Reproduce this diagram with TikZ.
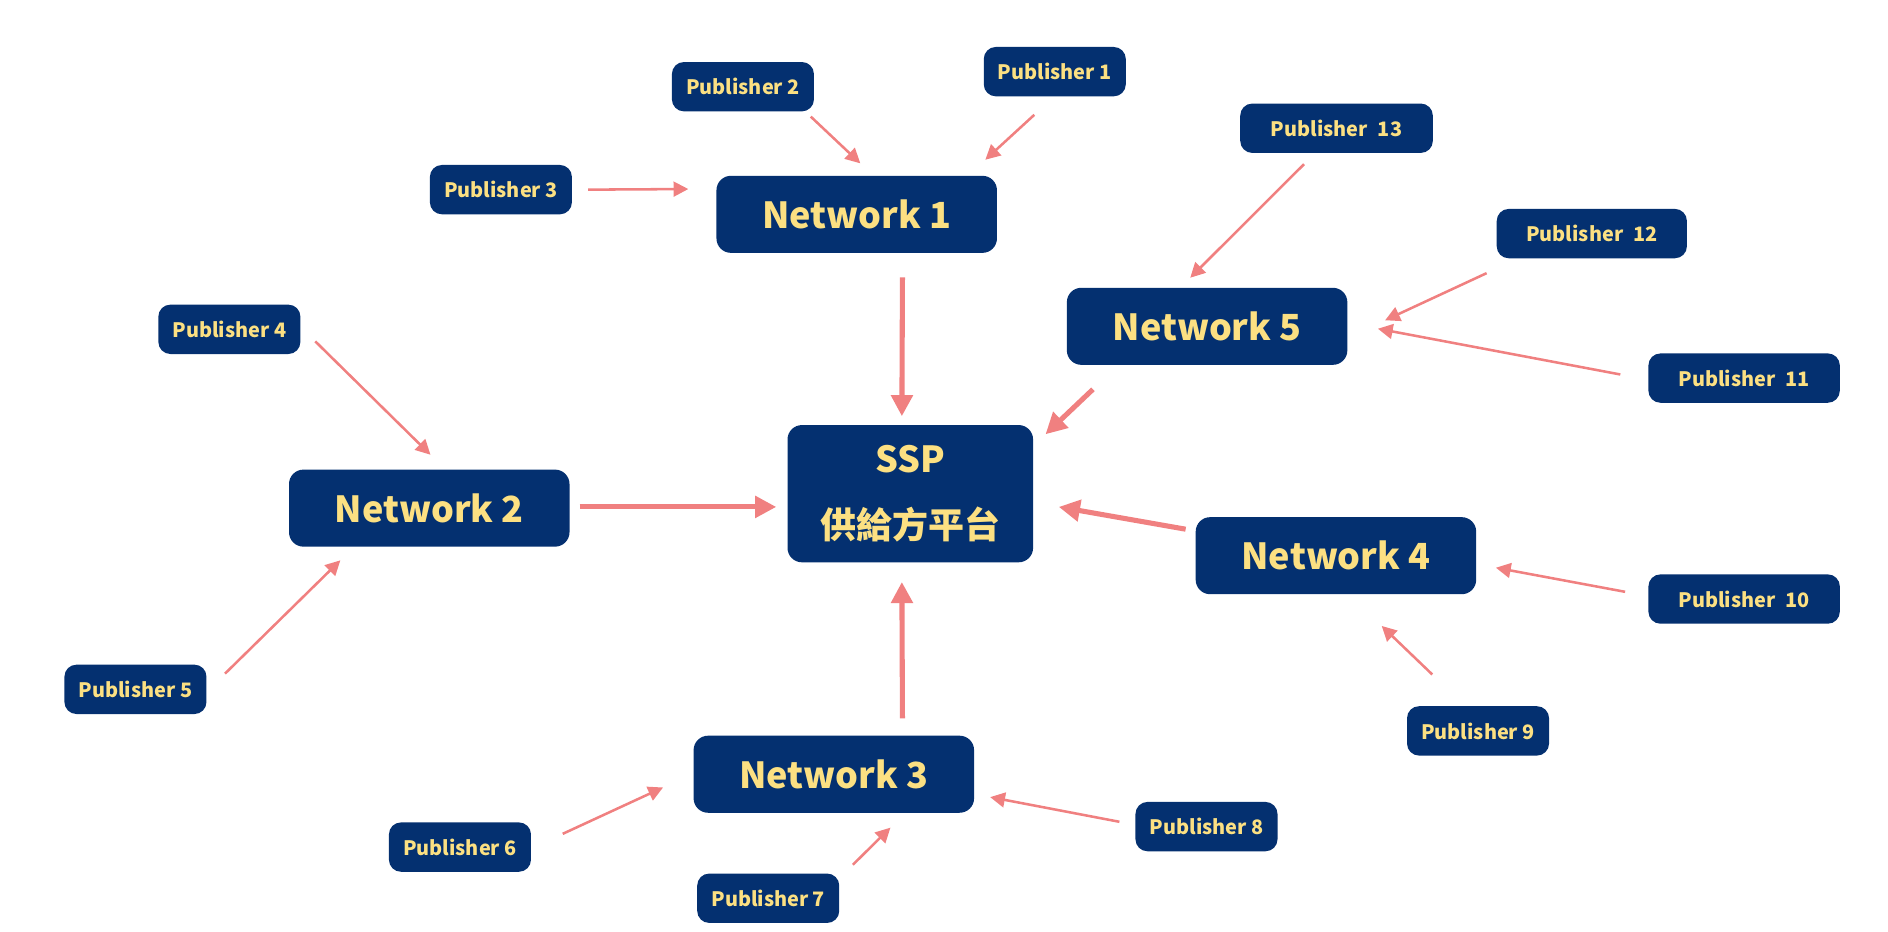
\documentclass[tikz,border=0pt]{standalone}
\usepackage{fontspec}
\setmainfont{Noto Sans CJK SC}
\usepackage{tikz}
\usetikzlibrary{arrows.meta}
\definecolor{navy}{RGB}{4,48,112}
\definecolor{gold}{RGB}{252,224,130}
\definecolor{coral}{RGB}{240,128,128}
\tikzset{
	pub/.style = {draw=none, fill=navy, text=gold, rounded corners=0.2cm, inner sep=0pt,
		minimum width=2.36cm, minimum height=0.82cm, font=\fontsize{9.4}{12}\selectfont\bfseries},
	net/.style = {pub, rounded corners=0.24cm, minimum width=4.66cm, minimum height=1.28cm,
		font=\fontsize{17}{20}\selectfont\bfseries},
	pubarrow/.style = {coral, line width=1.2pt, -{Triangle[length=7pt, width=7pt]}},
	netarrow/.style = {coral, line width=2.4pt, -{Triangle[length=10pt, width=10pt]}}
}

\begin{document}
\begin{tikzpicture} [x=0.02cm, y=-0.02cm]
	\useasboundingbox (0,0) rectangle (1568,774);
	% platform
	\node[net, minimum width=4.08cm, minimum height=2.28cm, align=center,
		font=\fontsize{17}{31}\selectfont\bfseries] (ssp) at (756,410) {SSP\\供給方平台};
	% networks
	\node[net] (n1) at (711.5,178) {Network 1};
	\node[net] (n2) at (356.5,422) {Network 2};
	\node[net] (n3) at (692.5,643) {Network 3};
	\node[net] (n4) at (1109.5,461.5) {Network 4};
	\node[net] (n5) at (1002.5,271) {Network 5};
	% publishers
	\node[pub] (p1) at (876,59.5) {Publisher 1};
	\node[pub] (p2) at (617,72) {Publisher 2};
	\node[pub] (p3) at (416,157.5) {Publisher 3};
	\node[pub] (p4) at (190.5,273.5) {Publisher 4};
	\node[pub] (p5) at (112.5,572.5) {Publisher 5};
	\node[pub] (p6) at (382,703.5) {Publisher 6};
	\node[pub] (p7) at (638,746) {Publisher 7};
	\node[pub] (p8) at (1002,686.5) {Publisher 8};
	\node[pub] (p9) at (1227.5,607) {Publisher 9};
	\node[pub, minimum width=3.18cm] (p10) at (1448.5,497.5) {Publisher\hspace{0.5em}10};
	\node[pub, minimum width=3.18cm] (p11) at (1448.5,314) {Publisher\hspace{0.5em}11};
	\node[pub, minimum width=3.16cm] (p12) at (1322,194) {Publisher\hspace{0.5em}12};
	\node[pub, minimum width=3.2cm] (p13) at (1110,106.5) {Publisher\hspace{0.5em}13};

	% publishers -> networks
	\draw[pubarrow] ([shift={(-17,15)}]p1.south) -- ([shift={(-10,-13)}]n1.north east);
	\draw[pubarrow] ([shift={(-3,4)}]p2.south east) -- ([shift={(3,-10)}]n1.north);
	\draw[pubarrow] ([shift={(13,0)}]p3.east) -- ([shift={(-23,-21)}]n1.west);
	\draw[pubarrow] ([shift={(12,10)}]p4.east) -- ([shift={(1,-12)}]n2.north);
	\draw[pubarrow] ([shift={(15,-13)}]p5.east) -- ([shift={(43,11)}]n2.south west);
	\draw[pubarrow] ([shift={(26,-11)}]p6.east) -- ([shift={(-25,11)}]n3.west);
	\draw[pubarrow] ([shift={(11,-7)}]p7.north east) -- ([shift={(47,12)}]n3.south);
	\draw[pubarrow] ([shift={(-13,-4)}]p8.west) -- ([shift={(13,19)}]n3.east);
	\draw[pubarrow] ([shift={(-38,-26)}]p9.north) -- ([shift={(38,26)}]n4.south);
	\draw[pubarrow] ([shift={(-19,-6)}]p10.west) -- ([shift={(16,10)}]n4.east);
	\draw[pubarrow] ([shift={(-23,-3)}]p11.west) -- ([shift={(25,2)}]n5.east);
	\draw[pubarrow] ([shift={(-8,12)}]p12.south west) -- ([shift={(31,-5)}]n5.east);
	\draw[pubarrow] ([shift={(-27,9)}]p13.south) -- ([shift={(-14,-8)}]n5.north);

	% networks -> SSP
	\draw[netarrow] ([shift={(38,20)}]n1.south) -- ([shift={(-7,-7)}]ssp.north);
	\draw[netarrow] ([shift={(8,-1)}]n2.east) -- ([shift={(-9,11)}]ssp.west);
	\draw[netarrow] ([shift={(57,-14)}]n3.north) -- ([shift={(-7,16)}]ssp.south);
	\draw[netarrow] ([shift={(-8,-22)}]n4.west) -- ([shift={(21,11)}]ssp.east);
	\draw[netarrow] ([shift={(22,20)}]n5.south west) -- ([shift={(10,8)}]ssp.north east);
\end{tikzpicture}
\end{document}
